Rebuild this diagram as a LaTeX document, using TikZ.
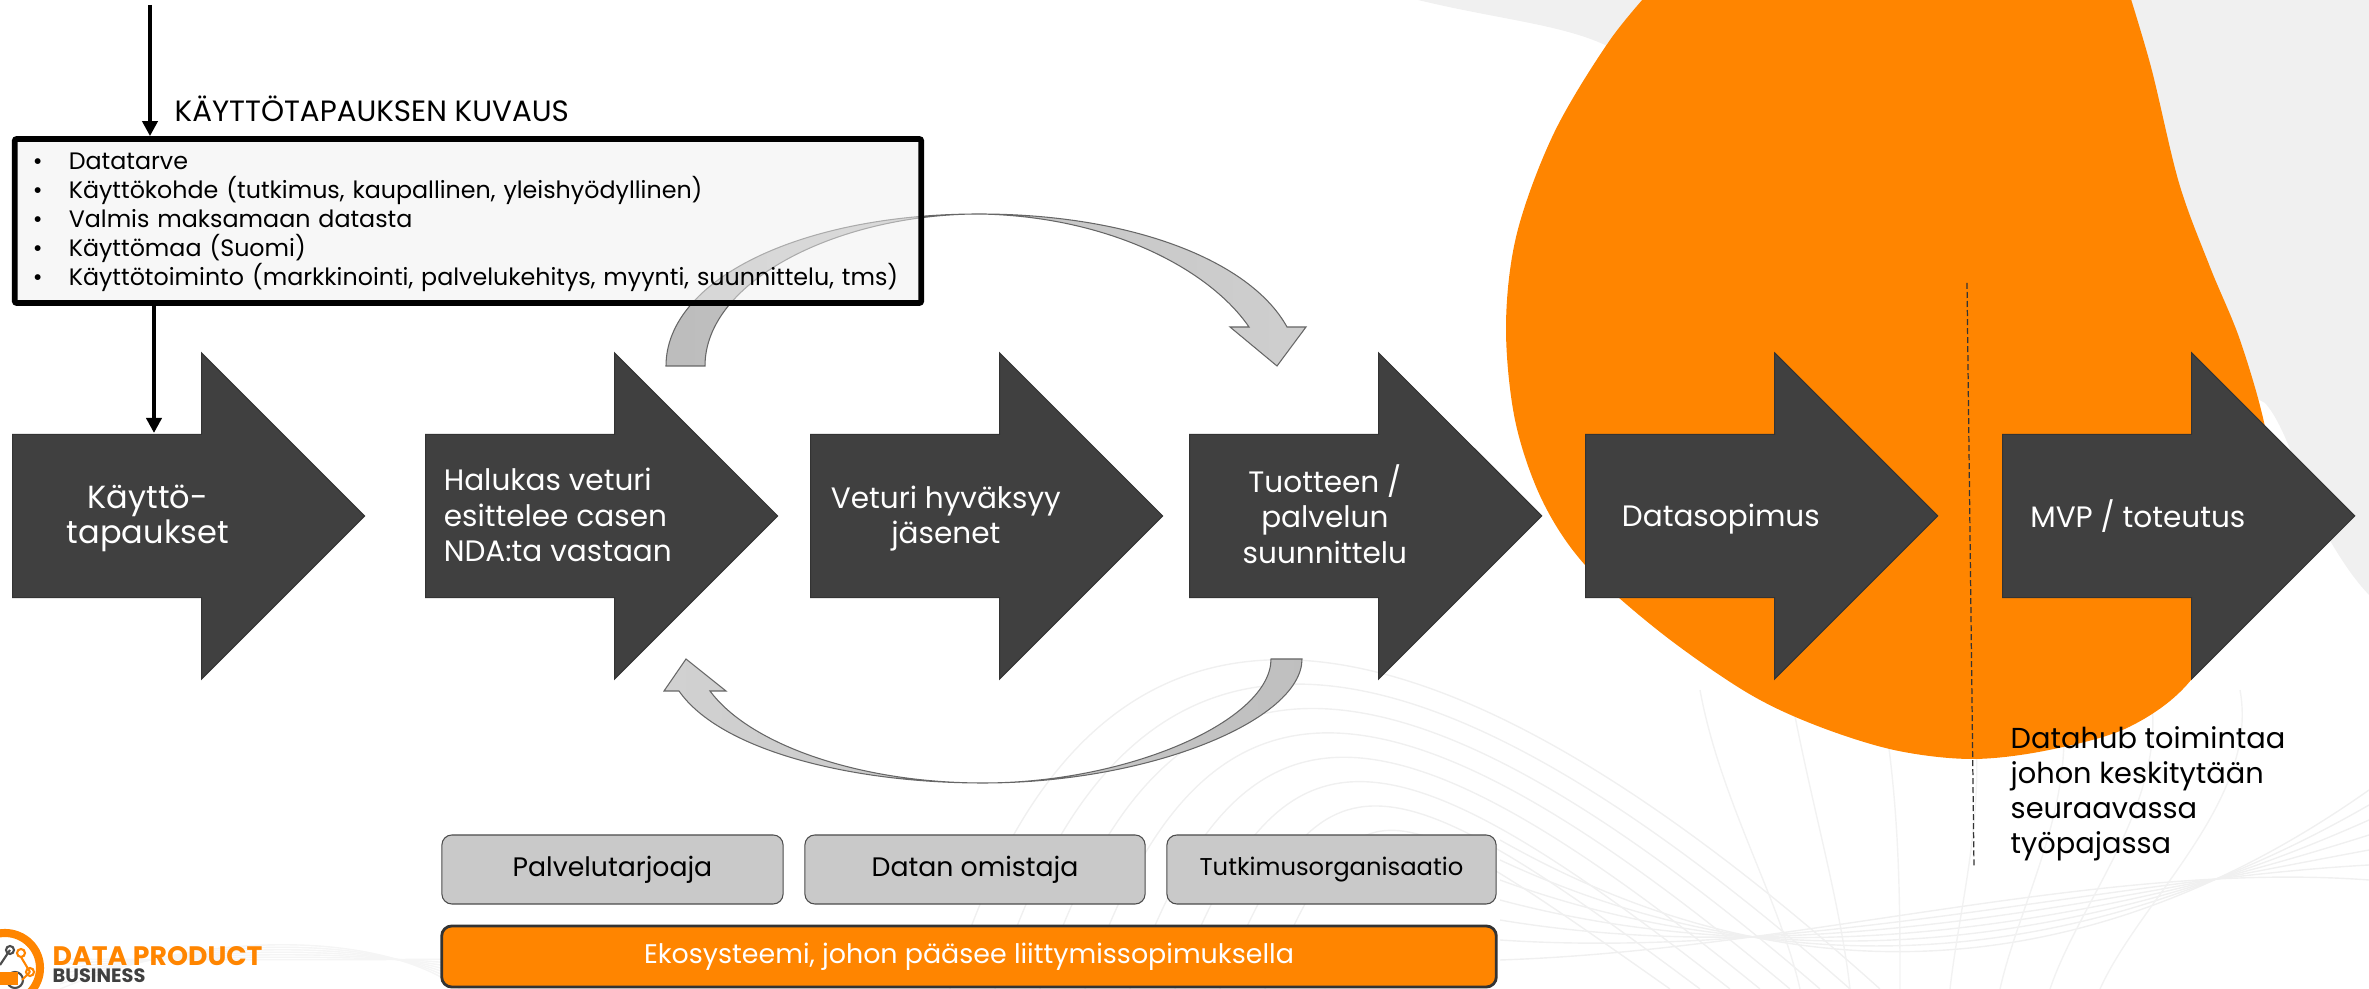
\documentclass[tikz,border=0pt]{standalone}
\usepackage{fontspec}
\setmainfont{Poppins}
\usetikzlibrary{arrows.meta,shapes.arrows}
\definecolor{brandorange}{HTML}{FF8500}
\definecolor{blockgray}{HTML}{404040}
\definecolor{boxgray}{HTML}{C9C9C9}
\definecolor{paleback}{HTML}{F0F0F0}
\newcommand{\blocktext}[2]{\makebox[2.0cm]{\raisebox{-0.1cm}[0.81cm][0.81cm]{\begin{tabular}{@{}#1@{}}#2\end{tabular}}}}
\begin{document}
\begin{tikzpicture}[
  x=0.01cm, y=-0.01cm,
  arrowblock/.style={single arrow, draw=black!80, fill=blockgray, line width=0.3pt, anchor=tail,
    minimum height=3.52cm, minimum width=3.25cm, single arrow head extend=0.815cm,
    inner sep=0pt, text=white, font=\fontsize{8.4}{10.1}\selectfont},
  rolebox/.style={rectangle, rounded corners=0.1cm, draw=black!70, fill=boxgray, line width=0.3pt,
    minimum height=0.69cm, font=\fontsize{7.6}{9}\selectfont},
  bendarrow/.style={draw=black!60, line width=0.3pt},
  feed/.style={-{Triangle[length=0.15cm,width=0.15cm]}, line width=1.1pt}
]
\useasboundingbox (0,0) rectangle (2369,989);
% Background
\begin{scope}
\clip (0,0) rectangle (2369,989);
\fill[paleback] (1418,0) .. controls (1500,20) and (1570,25) .. (1615,50) -- (2265,403)
  .. controls (2285,425) and (2300,480) .. (2320,523) .. controls (2335,550) and (2350,575) .. (2369,595) -- (2369,0) -- cycle;
\foreach \i in {0,...,7}
  \draw[black!6, line width=0.4pt] (950+45*\i,989) .. controls (1080+40*\i,560+30*\i) and (1380,540+35*\i) .. (1880-30*\i,989);
\foreach \i in {0,...,6} {
  \draw[black!6, line width=0.4pt] (1500,840+20*\i) .. controls (1800,1010-10*\i) and (2100,980-20*\i) .. (2369,790+15*\i);
  \draw[black!5, line width=0.4pt] (1700+90*\i,690) .. controls (1720+90*\i,800) and (1780+60*\i,900) .. (1800+50*\i,989);
  \draw[black!4, line width=0.4pt] (60,989-5*\i) .. controls (200,930+5*\i) and (380,930+5*\i) .. (460,989-5*\i);
}
\fill[brandorange] plot[smooth, tension=0.55] coordinates {(1660,-20) (1610,40) (1554,133) (1517,233) (1506,325)
    (1515,420) (1542,500) (1585,565) (1660,632) (1746,692) (1815,725) (1894,750) (1972,759) (2049,750) (2129,727) (2191,680) (2240,590)
    (2272,500) (2265,427) (2240,340) (2210,267) (2179,183) (2151,67) (2125,-20)} -- cycle;
\end{scope}

% Curved arrows
\draw[bendarrow, left color=black!26, right color=black!19] (666,366) .. controls (666,280) and (800,214) .. (979,214) .. controls (1130,214) and (1250,260) .. (1287,327)
  -- (1306,327) -- (1277,366) -- (1230,327) -- (1249,327) .. controls (1210,270) and (1110,216) .. (979,214)
  .. controls (840,214) and (705,280) .. (705,366) -- cycle;
\draw[bendarrow, left color=black!18, right color=black!25] (1302,659) .. controls (1302,720) and (1150,783) .. (983,783) .. controls (850,783) and (720,750) .. (679,691)
  -- (664,691) -- (686,659) -- (726,691) -- (710,691) .. controls (750,745) and (860,783) .. (983,783)
  .. controls (1130,783) and (1271,720) .. (1271,659) -- cycle;

% Process arrows
\node (usecases) at (12,516) [arrowblock] {\blocktext{c}{\fontsize{9.1}{10.9}\selectfont Käyttö-\\\fontsize{9.1}{10.9}\selectfont tapaukset}};
\node (volunteer) at (425,516) [arrowblock] {\blocktext{l@{\hspace{0.06cm}}}{Halukas veturi\\esittelee casen\\NDA:ta vastaan}};
\node (approval) at (810,516) [arrowblock] {\blocktext{c}{Veturi hyväksyy\\jäsenet}};
\node (design) at (1189,516) [arrowblock] {\blocktext{c}{Tuotteen /\\palvelun\\suunnittelu}};
\node (contract) at (1585,516) [arrowblock] {\blocktext{c}{Datasopimus}};
\node (mvp) at (2002,516) [arrowblock] {\blocktext{c}{MVP / toteutus}};

% Description box
\node (desc) at (468,221) [rectangle, draw=black, fill=paleback, fill opacity=0.5, text opacity=1, line width=1.6pt, rounded corners=0.02cm,
  minimum width=9.06cm, minimum height=1.64cm, text width=8.9cm, inner sep=0pt, font=\fontsize{6.76}{8.25}\selectfont]
  {\begin{list}{\textbullet}{\leftmargin=0.46cm\labelwidth=0.2cm\labelsep=0.26cm\topsep=0pt\partopsep=0pt\itemsep=0pt\parsep=0pt}
  \item Datatarve
  \item Käyttökohde (tutkimus, kaupallinen, yleishyödyllinen)
  \item Valmis maksamaan datasta
  \item Käyttömaa (Suomi)
  \item Käyttötoiminto (markkinointi, palvelukehitys, myynti, suunnittelu, tms)
  \end{list}\par\vspace{0.09cm}\hrule height 0pt};
\node (desc-title) at (174,109) [anchor=west, inner sep=0pt, font=\fontsize{8.35}{9}\selectfont] {KÄYTTÖTAPAUKSEN KUVAUS};

% Feed lines
\coordinate (desc-in) at (150,5);
\draw[feed] (desc-in) -- (desc-in |- desc.north);
\coordinate (desc-out) at (154,433);
\draw[feed] (desc-out |- desc.south) -- (desc-out);

% Roles
\node (provider) at (612.5,869.5) [rolebox, minimum width=3.41cm] {Palvelutarjoaja};
\node (owner) at (975,869.5) [rolebox, minimum width=3.40cm] {Datan omistaja};
\node (research) at (1331.5,869.5) [rolebox, minimum width=3.29cm, font=\fontsize{6.9}{8}\selectfont] {Tutkimusorganisaatio};
\node (ecosystem) at (969,956.5) [rectangle, rounded corners=0.1cm, draw=black!80, fill=brandorange, line width=0.8pt, text=white,
  minimum width=10.54cm, minimum height=0.61cm, font=\fontsize{7.65}{9}\selectfont] {Ekosysteemi, johon pääsee liittymissopimuksella};

% Next phase
\coordinate (split-top) at (1967,283);
\coordinate (split-bottom) at (1974,868);
\draw[black!80, dash pattern=on 0.06cm off 0.03cm, line width=0.35pt] (split-top) -- (split-bottom);
\node (datahub) at (2010,794) [anchor=west, align=left, inner sep=0pt, font=\fontsize{8.2}{9.96}\selectfont]
  {Datahub toimintaa\\johon keskitytään\\seuraavassa\\työpajassa};

% Logo
\begin{scope}
\clip (0,920) rectangle (50,989);
\draw[brandorange, line width=2.3pt] (5,968) circle (35);
\draw[black!70, line width=0.6pt] (0,965) -- (10,950) (15,980) circle (8);
\draw[black!70, line width=0.6pt] (10,950) circle (4);
\draw[brandorange, line width=0.6pt] (21,953) circle (4) (21,957) -- (30,972) (30,972) circle (4) -- (22,980);
\fill[brandorange] (0,972) rectangle (18,985);
\end{scope}
\node (logo-top) at (52,956) [anchor=west, inner sep=0pt, text=brandorange, font=\fontsize{7.6}{8}\bfseries\selectfont] {DATA PRODUCT};
\node (logo-bottom) at (52,976) [anchor=west, inner sep=0pt, text=blockgray, font=\fontsize{5.5}{6}\bfseries\selectfont] {BUSINESS};
\end{tikzpicture}
\end{document}
